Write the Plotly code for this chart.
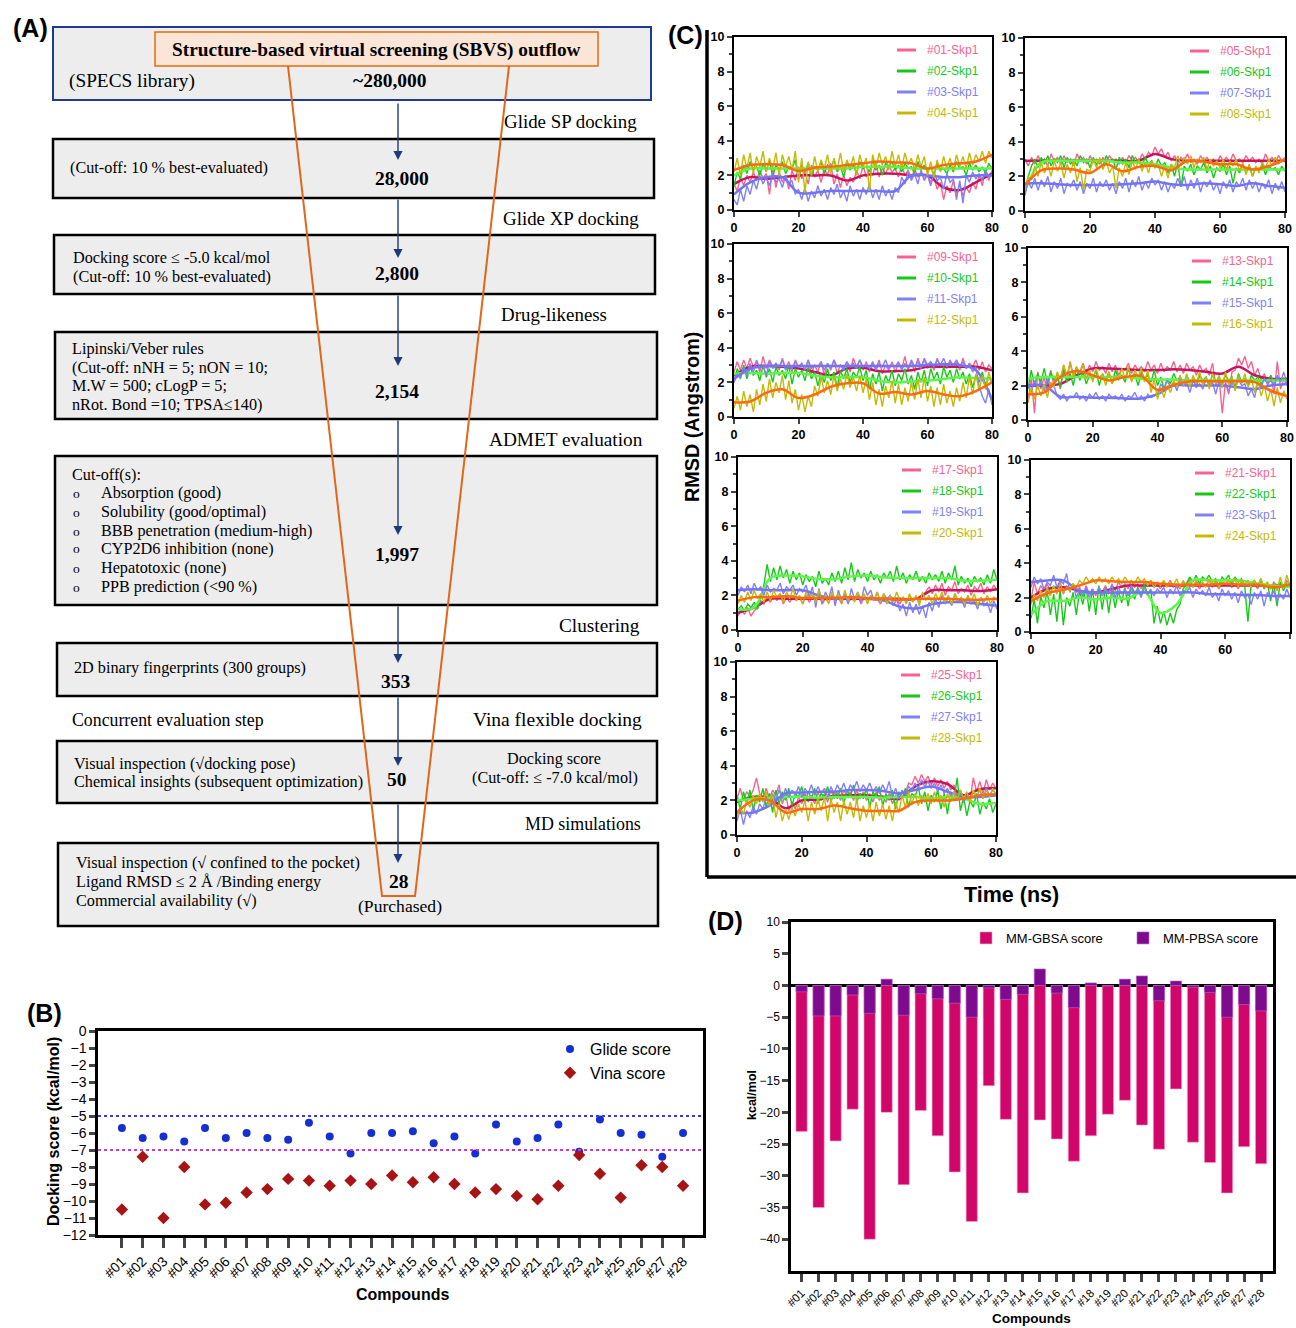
import numpy as np
import plotly.graph_objects as go

W, H = 1296, 1328
def X(px): return px / W
def Y(py): return 1 - py / H

SERIF = "Liberation Serif"
SANS = "Liberation Sans"

# ---------------- data ----------------
COMPOUNDS = ["#01", "#02", "#03", "#04", "#05", "#06", "#07", "#08", "#09", "#10",
             "#11", "#12", "#13", "#14", "#15", "#16", "#17", "#18", "#19", "#20",
             "#21", "#22", "#23", "#24", "#25", "#26", "#27", "#28"]
GLIDE = [-5.7, -6.3, -6.2, -6.5, -5.7, -6.3, -6.0, -6.3, -6.4, -5.4, -6.2, -7.2, -6.0, -6.0,
         -5.9, -6.6, -6.2, -7.2, -5.5, -6.5, -6.3, -5.5, -7.1, -5.2, -6.0, -6.1, -7.4, -6.0]
VINA = [-10.5, -7.4, -11.0, -8.0, -10.2, -10.1, -9.5, -9.3, -8.7, -8.8, -9.1, -8.8, -9.0, -8.5,
        -8.9, -8.6, -9.0, -9.5, -9.3, -9.7, -9.9, -9.1, -7.3, -8.4, -9.8, -7.9, -8.0, -9.1]
GLIDE_CUTOFF = -5.0
VINA_CUTOFF = -7.0

MMGBSA = [-23.0, -35.0, -24.5, -19.5, -40.0, -20.0, -31.4, -19.7, -23.7, -29.4, -37.2, -15.8,
          -21.1, -32.7, -21.2, -24.2, -27.7, -23.7, -20.3, -18.1, -22.0, -25.8, -16.3, -24.7,
          -27.9, -32.7, -25.4, -28.1]
MMPBSA = [-1.0, -4.8, -4.8, -1.5, -4.4, 1.0, -4.7, -1.3, -2.1, -2.8, -5.0, -0.4, -2.2, -1.4,
          2.6, -1.2, -3.5, 0.4, -0.1, 1.0, 1.5, -2.4, 0.7, -0.3, -1.1, -5.0, -3.0, -4.0]

TIME_SMOOTH = [0, 5, 10, 15, 20, 25, 30, 35, 40, 45, 50, 55, 60, 65, 70, 75, 80]

# RMSD traces (one value per ns, 0..80 ns)
RMSD_01 = [1.5,1.1,1.9,1.4,2.0,1.6,2.2,1.7,2.3,1.8,2.1,0.9,2.4,1.3,2.2,1.6,2.0,1.2,2.3,1.7,2.5,1.8,2.2,1.5,2.6,1.9,2.3,1.6,2.4,2.0,2.7,1.5,2.1,1.3,2.0,1.4,1.9,1.6,2.3,1.8,2.6,1.9,2.3,2.0,2.7,1.9,2.4,2.1,2.6,2.2,2.4,1.9,2.6,2.0,2.3,1.8,2.4,1.9,2.2,1.7,2.1,1.6,1.9,1.2,1.6,0.6,1.4,1.0,1.7,0.9,1.5,0.8,1.3,1.0,1.6,1.2,2.0,1.4,2.4,1.7,2.3]
RMSD_02 = [1.4,2.2,1.8,2.6,2.1,2.8,2.3,2.5,2.0,2.7,2.2,2.9,1.9,2.6,2.3,2.8,2.1,2.5,2.4,2.9,1.8,2.6,2.2,2.7,2.0,2.5,2.3,2.8,2.1,2.6,2.4,2.9,2.2,2.5,1.9,2.7,2.3,2.6,2.1,2.8,2.4,2.5,2.2,2.9,2.3,2.6,2.0,2.7,2.5,2.8,2.3,2.6,2.2,2.7,2.4,2.5,2.1,2.8,2.3,2.6,2.2,2.5,2.0,2.7,2.3,2.4,2.1,2.6,2.2,2.8,2.4,2.5,2.0,2.7,2.3,2.6,2.2,2.5,2.1,2.7,2.4]
RMSD_03 = [0.6,0.3,1.2,0.5,1.4,0.9,1.7,1.2,2.0,1.5,1.9,1.4,2.1,1.6,1.8,1.3,2.0,1.5,1.7,0.9,1.2,0.6,1.3,0.5,1.1,0.7,1.4,0.8,1.2,0.6,1.3,0.9,1.5,0.7,1.1,0.5,1.4,0.8,1.2,0.6,1.3,0.9,1.5,0.7,1.2,0.6,1.4,0.8,1.2,0.6,1.3,1.0,1.9,1.5,2.2,1.7,2.1,1.5,2.3,1.8,2.0,1.4,2.2,1.7,1.9,1.2,2.1,1.6,1.8,0.6,1.7,0.4,2.0,1.6,2.2,1.8,2.1,1.7,2.3,1.9,2.0]
RMSD_04 = [2.2,3.0,2.0,3.2,2.4,3.3,2.1,3.1,2.5,3.4,2.2,3.0,2.4,3.3,2.0,3.2,2.5,3.1,2.3,3.4,1.6,3.0,1.0,2.8,2.0,3.1,2.2,2.9,2.4,3.2,2.1,3.0,2.3,3.3,2.2,2.9,2.4,3.1,2.0,3.2,2.5,3.0,1.1,3.2,2.4,3.3,2.6,3.1,2.3,3.4,2.5,3.2,2.4,3.3,2.6,3.0,2.3,3.2,2.5,3.1,2.0,2.8,1.9,2.9,2.2,3.1,2.4,3.0,2.3,3.2,2.5,3.1,2.4,3.3,2.6,3.2,2.8,3.4,2.7,3.4,3.0]
SMOOTH_01 = [1.5,1.9,1.8,1.9,2.0,2.0,2.0,1.7,2.0,2.1,2.1,2.0,2.0,1.3,1.15,1.6,2.1]
SMOOTH_02 = [2.0,2.4,2.4,2.4,2.4,2.4,2.4,2.4,2.5,2.5,2.5,2.4,2.4,2.4,2.4,2.4,2.4]
SMOOTH_03 = [0.9,1.6,1.9,1.9,1.0,1.0,1.1,1.1,1.1,1.1,1.1,2.0,2.0,1.9,1.9,2.0,2.0]
SMOOTH_04 = [2.3,2.6,2.65,2.6,2.25,2.45,2.5,2.6,2.7,2.8,2.75,2.7,2.4,2.6,2.7,2.8,3.2]

RMSD_05 = [3.0,2.6,3.1,2.7,3.2,2.8,3.0,2.6,3.3,2.9,3.1,2.7,3.2,2.8,3.0,2.6,3.3,2.9,3.1,2.7,3.2,2.8,3.0,2.7,3.1,2.8,3.2,2.9,3.0,2.7,3.1,2.8,3.2,2.9,3.1,2.8,3.3,3.0,3.4,3.2,3.7,3.3,3.6,3.1,3.4,2.9,3.2,2.8,3.1,2.9,3.3,2.8,3.0,2.7,3.2,2.9,3.1,2.8,3.0,2.7,3.2,2.9,3.1,2.8,3.3,2.9,3.0,2.8,3.2,2.9,3.1,2.8,3.0,2.7,3.3,2.9,3.1,2.8,3.2,2.9,3.1]
RMSD_06 = [0.9,2.0,2.6,3.0,2.5,3.1,2.7,3.2,2.6,3.0,2.8,3.2,2.5,3.1,2.7,3.0,2.6,3.2,2.8,3.0,2.5,3.1,2.7,2.9,2.6,3.2,2.8,3.0,2.4,3.1,2.7,3.0,2.5,3.2,2.8,3.0,2.6,3.1,2.7,2.9,2.5,3.0,2.6,2.8,2.2,2.7,2.0,2.8,1.4,2.6,2.3,2.7,2.1,2.6,2.4,2.8,2.2,2.6,1.9,2.5,2.3,2.7,2.1,2.6,1.6,2.5,2.2,2.7,2.3,2.6,2.0,2.5,2.3,2.7,2.1,2.6,2.4,2.5,2.1,2.6,2.3]
RMSD_07 = [1.0,1.7,1.3,1.9,1.2,1.8,1.4,2.0,1.1,1.7,1.3,1.9,1.0,1.6,1.4,1.8,1.2,1.7,1.0,1.6,1.3,1.9,1.1,1.7,1.4,1.8,1.2,1.6,1.0,1.7,1.3,1.9,1.1,1.8,1.4,2.0,1.2,1.7,1.3,1.9,1.5,1.8,1.2,1.7,1.1,1.6,1.3,1.9,1.4,2.0,1.2,1.8,1.3,1.9,1.1,1.7,1.4,1.8,1.2,1.6,1.0,1.7,1.3,1.8,1.1,1.7,1.4,1.9,1.2,1.8,1.3,1.7,1.1,1.6,1.3,1.8,1.0,1.6,1.2,1.7,1.1]
RMSD_08 = [1.4,2.0,1.8,2.6,2.0,2.8,2.2,2.7,2.0,2.9,2.3,2.8,1.9,2.7,2.2,2.9,1.7,2.5,1.2,2.4,2.3,3.0,2.5,3.1,2.4,2.9,2.2,2.6,1.3,2.5,2.0,2.8,2.1,2.9,2.4,3.0,2.3,2.8,2.2,2.9,2.5,2.7,2.0,2.6,1.9,2.7,2.5,3.2,2.6,3.1,2.7,3.2,2.5,3.0,2.8,3.1,2.4,3.0,2.6,2.9,2.5,3.0,2.4,2.9,2.6,3.0,2.3,2.8,2.1,2.7,2.0,2.6,2.2,2.8,2.5,3.0,2.6,3.1,2.7,3.0,2.9]
SMOOTH_05 = [2.9,2.9,2.9,2.9,2.9,2.9,2.9,2.9,3.3,3.0,2.9,2.9,2.9,2.9,2.9,2.9,2.9]
SMOOTH_06 = [1.2,2.8,2.9,2.9,2.9,2.9,2.8,2.8,2.7,2.5,2.4,2.4,2.4,2.4,2.4,2.4,2.4]
SMOOTH_07 = [1.6,1.6,1.55,1.5,1.5,1.5,1.55,1.6,1.7,1.55,1.5,1.6,1.55,1.45,1.6,1.45,1.35]
SMOOTH_08 = [1.5,2.35,2.45,2.4,2.2,2.7,2.3,2.55,2.6,2.35,2.9,2.85,2.7,2.7,2.4,2.6,2.95]

RMSD_09 = [2.6,3.2,2.7,3.3,2.8,3.4,2.9,3.2,2.6,3.5,2.8,3.3,2.9,3.1,2.7,3.4,2.8,3.2,2.6,3.3,2.9,3.1,2.7,3.3,2.5,3.0,2.6,3.2,2.4,3.1,2.7,3.3,2.5,3.0,2.8,3.2,2.6,3.4,2.9,3.3,2.7,3.2,2.6,3.1,2.8,3.3,2.5,3.0,2.7,3.2,2.6,3.1,2.8,3.5,2.7,3.2,2.6,3.4,2.9,3.3,2.8,3.2,2.7,3.4,2.9,3.1,2.8,3.3,2.9,3.2,2.7,3.4,2.8,3.1,2.9,3.3,2.7,3.2,2.6,3.0,2.8]
RMSD_10 = [2.0,2.8,2.3,3.0,2.2,2.9,2.4,2.7,2.1,3.0,2.3,2.8,2.0,2.9,2.4,2.7,2.2,3.0,1.9,2.8,2.3,2.7,2.1,2.9,2.2,2.6,1.8,2.5,2.0,2.8,2.1,2.6,1.7,2.7,2.2,2.8,2.0,2.6,2.3,2.9,2.1,2.7,1.6,2.5,1.9,2.6,1.5,2.4,2.0,2.7,1.8,2.5,2.1,2.8,1.9,2.4,1.6,2.6,2.0,2.7,1.8,2.8,2.2,2.6,1.9,2.9,2.3,2.7,2.0,2.8,2.2,2.6,1.9,2.5,1.7,2.4,2.0,2.6,1.8,2.3,2.0]
RMSD_11 = [2.0,2.5,2.2,2.9,2.4,3.1,2.6,3.3,2.8,3.0,2.4,3.2,2.8,3.1,2.9,3.3,2.7,3.0,2.8,3.2,2.9,3.1,2.7,3.3,2.8,3.0,2.9,3.2,2.7,3.1,2.8,3.3,2.9,3.0,2.7,3.2,2.9,3.1,2.8,3.3,2.9,3.0,2.8,3.2,2.7,3.1,2.9,3.3,2.8,3.0,2.9,3.2,2.7,3.1,2.8,3.3,2.9,3.2,2.8,3.4,3.0,3.2,2.9,3.3,3.0,3.4,2.9,3.2,3.0,3.3,2.9,3.2,2.8,3.1,2.6,2.9,1.8,1.2,0.8,1.6,0.7]
RMSD_12 = [0.5,1.2,0.4,1.5,0.6,1.3,0.3,1.6,0.7,1.9,0.9,2.2,1.1,2.0,1.4,2.4,1.0,2.1,0.8,1.6,0.4,1.3,0.3,1.2,0.6,1.8,1.2,2.3,1.4,2.1,1.3,2.4,1.5,2.2,1.6,2.5,1.7,2.3,1.5,2.4,1.4,2.2,1.0,2.0,0.7,1.6,0.6,1.8,1.1,2.1,0.8,1.9,0.7,1.7,0.9,2.0,1.0,2.2,1.1,2.3,0.9,1.8,0.6,1.7,0.7,1.9,0.8,1.5,0.6,1.7,0.9,2.0,1.1,2.3,1.3,2.5,1.5,2.4,1.6,2.6,1.9]
SMOOTH_09 = [2.4,2.9,2.95,2.9,2.8,2.6,2.4,2.8,2.85,2.65,2.65,2.7,2.9,2.9,2.9,2.9,2.7]
SMOOTH_10 = [2.5,2.55,2.5,2.55,2.55,2.4,2.3,2.3,2.3,2.1,2.0,2.05,2.1,2.2,2.3,2.25,2.2]
SMOOTH_11 = [2.2,2.8,2.95,2.95,2.95,2.95,2.95,2.95,2.95,2.95,2.95,2.95,3.0,3.05,3.0,2.7,1.0]
SMOOTH_12 = [0.85,0.9,1.4,1.6,1.1,1.3,1.75,1.95,1.95,1.35,1.45,1.3,1.5,1.3,1.2,1.5,2.0]

RMSD_13 = [1.0,2.5,0.4,2.8,1.8,2.5,1.6,2.9,2.0,2.6,1.8,3.2,2.2,3.4,2.6,3.0,2.8,3.3,2.7,3.2,2.8,3.4,2.9,3.1,2.7,3.3,2.8,3.2,2.6,3.0,2.9,3.3,2.7,3.2,2.9,3.1,2.8,3.4,2.9,3.2,2.7,3.3,2.8,3.1,2.9,3.4,2.8,3.2,2.7,3.3,2.9,3.1,2.6,3.2,2.8,3.0,2.6,3.3,2.0,2.5,0.4,2.2,1.5,2.8,2.9,3.6,3.2,3.7,3.0,3.4,2.6,3.0,2.3,2.7,2.0,2.6,1.5,3.4,1.8,2.4,2.0]
RMSD_14 = [1.8,2.9,2.0,2.7,2.2,3.0,2.1,2.8,2.3,2.6,1.9,2.9,2.2,2.7,2.0,3.1,2.3,2.8,2.1,2.6,2.4,2.9,2.0,2.7,2.3,2.8,2.1,2.9,2.4,2.6,2.2,3.0,2.3,2.7,2.0,2.8,2.4,2.6,2.2,2.9,2.0,2.5,1.8,2.4,2.1,2.7,2.3,2.5,2.0,2.6,2.2,2.4,1.9,2.6,2.3,2.5,2.0,2.7,2.2,2.4,2.1,2.6,2.3,2.5,1.9,2.7,2.2,2.4,2.0,2.6,2.3,2.5,2.1,2.4,2.2,2.6,2.0,2.5,2.3,2.4,2.2]
RMSD_15 = [2.1,1.6,2.3,1.8,2.2,1.7,2.4,1.9,2.0,1.4,1.2,1.5,1.1,1.4,1.3,1.6,1.2,1.4,1.1,1.5,1.3,1.6,1.2,1.4,1.1,1.5,1.3,1.4,1.2,1.5,1.1,1.4,1.3,1.6,1.2,1.4,1.1,1.5,1.3,1.4,1.5,2.1,1.8,2.3,1.9,2.2,1.7,2.4,2.0,2.2,1.6,2.3,1.9,2.1,1.8,2.4,2.0,2.2,1.5,2.3,1.9,2.1,1.7,2.2,1.8,2.4,2.0,2.1,1.4,1.8,1.3,2.2,1.9,2.4,2.1,2.3,2.0,2.6,2.2,2.8,2.1]
RMSD_16 = [1.0,1.9,1.2,2.0,1.4,2.1,1.3,2.2,1.9,2.8,2.4,3.2,2.6,3.3,2.5,3.1,2.7,3.2,2.4,2.9,2.2,3.0,2.4,2.7,2.0,2.8,2.1,2.6,2.3,3.0,2.4,3.1,2.2,2.9,2.5,3.0,2.2,2.9,1.6,2.4,1.2,1.9,1.3,2.0,1.6,2.3,1.9,2.6,2.0,2.7,1.9,2.6,2.1,2.8,2.0,2.5,1.8,2.7,2.1,2.6,1.9,2.8,2.0,2.5,1.7,2.6,2.1,2.7,1.9,2.4,1.6,2.3,1.4,2.0,1.1,1.8,0.8,1.9,1.0,1.7,1.2]
SMOOTH_13 = [2.0,2.0,2.1,2.6,3.0,3.0,2.95,2.9,2.9,2.95,2.9,2.8,2.7,3.1,2.6,2.4,2.4]
SMOOTH_14 = [2.4,2.5,2.5,2.5,2.5,2.5,2.5,2.4,2.35,2.35,2.3,2.3,2.3,2.3,2.3,2.3,2.3]
SMOOTH_15 = [2.0,2.0,1.35,1.35,1.3,1.3,1.25,1.25,1.5,2.0,2.0,2.0,2.0,1.9,1.8,2.0,2.1]
SMOOTH_16 = [1.5,1.6,2.5,2.85,2.6,2.3,2.5,2.55,1.75,2.05,2.25,2.25,2.25,2.25,2.2,1.7,1.4]

RMSD_17 = [0.8,1.2,0.9,1.3,0.8,1.1,1.3,1.7,1.5,1.9,1.6,2.0,1.7,2.1,1.5,1.9,1.6,2.0,1.7,1.9,1.5,2.0,1.6,1.9,1.7,2.1,1.5,1.8,1.6,2.0,1.7,1.9,1.5,2.1,1.6,1.8,1.7,2.0,1.5,1.9,1.6,2.0,1.7,1.8,1.5,1.9,1.6,2.0,1.7,1.8,1.5,1.9,1.6,2.0,1.7,1.9,1.6,2.0,2.2,2.5,2.1,2.6,2.2,2.7,2.0,2.5,2.3,2.8,2.1,2.4,2.2,2.6,2.0,2.5,2.3,2.7,2.1,2.5,2.2,2.6,2.3]
RMSD_18 = [1.2,1.4,1.1,1.5,1.3,1.6,1.2,1.8,2.6,3.8,2.8,3.6,2.9,3.7,3.0,3.5,2.7,3.4,2.9,3.3,2.6,3.2,2.8,3.1,2.5,3.4,2.7,3.0,2.6,3.3,2.8,3.4,2.7,3.6,2.9,3.9,2.8,3.5,3.0,3.3,2.8,3.4,2.9,3.2,2.7,3.3,3.0,3.4,2.8,3.7,2.9,3.3,2.7,3.2,2.9,3.4,2.8,3.1,2.7,3.3,2.9,3.2,2.8,3.4,2.7,3.3,2.9,3.7,2.6,3.1,2.7,3.0,2.5,3.1,2.8,3.0,2.6,3.2,2.7,3.5,2.9]
RMSD_19 = [2.0,2.5,2.2,2.6,2.1,2.7,2.3,2.5,2.0,2.6,2.2,2.4,2.3,2.7,2.1,2.5,2.3,2.6,2.0,2.4,2.2,2.6,1.9,2.5,1.3,2.4,1.5,2.2,1.8,2.5,1.4,2.3,1.7,2.1,1.5,2.4,1.8,2.2,1.6,2.5,2.0,2.3,1.7,2.2,1.6,2.1,1.8,2.0,1.4,1.8,1.1,1.5,0.8,1.6,1.0,1.5,0.9,1.4,0.7,1.6,1.1,1.8,1.3,2.0,1.5,1.9,1.4,2.1,1.6,1.8,1.3,2.0,1.5,1.7,1.2,1.9,1.4,1.6,1.0,1.7,1.2]
RMSD_20 = [1.5,2.0,1.6,2.2,1.7,2.3,1.8,2.1,1.6,2.2,1.7,2.3,1.9,2.1,1.6,2.2,1.8,2.4,1.7,2.0,1.5,2.2,1.8,2.1,1.6,2.3,1.7,2.0,1.5,2.2,1.8,2.1,1.6,2.3,1.7,2.0,1.6,2.2,1.8,2.1,1.5,2.0,1.7,2.2,1.6,2.1,1.5,2.0,1.6,2.2,1.7,1.9,1.5,2.1,1.6,2.0,1.4,2.2,1.7,2.0,1.5,2.1,1.7,2.2,1.6,2.0,1.5,2.1,1.7,1.9,1.5,2.0,1.6,2.1,1.4,1.9,1.6,2.0,1.5,1.9,1.7]
SMOOTH_17 = [1.0,1.3,1.8,1.8,1.8,1.8,1.8,1.8,1.8,1.8,1.8,1.8,2.3,2.3,2.3,2.25,2.35]
SMOOTH_18 = [1.2,1.3,3.0,3.15,3.1,2.95,2.95,3.1,3.15,3.05,3.0,3.0,3.0,3.0,2.85,2.85,2.9]
SMOOTH_19 = [2.3,2.35,2.3,2.3,2.3,2.0,1.8,1.9,1.8,1.7,1.35,1.25,1.5,1.6,1.6,1.5,1.4]
SMOOTH_20 = [1.7,1.9,1.9,1.95,1.85,1.85,1.85,1.9,1.85,1.8,1.75,1.8,1.8,1.8,1.75,1.75,1.8]

RMSD_21 = [1.9,2.9,2.2,2.7,2.4,2.8,2.3,2.6,2.5,2.9,2.2,2.7,2.4,2.8,2.3,2.6,2.0,2.7,2.2,2.5,2.1,2.6,2.3,2.7,2.2,2.8,2.4,2.9,2.6,2.8,2.5,3.0,2.6,2.8,2.5,2.9,2.7,3.0,2.6,2.8,2.5,2.9,2.7,3.0,2.6,2.8,2.5,2.9,2.7,3.1,2.6,2.9,2.5,2.8,2.7,3.0,2.6,2.9,2.5,2.8,2.7,3.0,2.6,2.8,2.5,2.9,2.7,3.0,2.6,2.8,2.5,2.9,2.6,2.8,2.5,2.9,2.7,2.8,2.6,3.0,2.7]
RMSD_22 = [0.8,1.9,0.5,2.1,1.4,2.4,1.0,2.2,0.6,2.5,0.4,2.0,1.5,2.3,1.0,2.4,1.6,2.6,1.2,2.5,1.0,2.7,1.3,2.6,1.1,2.5,1.4,2.4,1.7,2.6,1.5,2.7,1.9,2.6,2.1,2.8,2.2,2.5,0.5,1.5,0.5,1.2,0.4,1.1,0.5,1.3,1.6,2.5,2.8,3.2,2.9,3.3,2.8,3.2,3.0,3.3,2.9,3.1,2.7,3.2,3.0,3.3,2.8,3.2,2.9,3.1,2.7,0.6,2.8,3.0,2.6,3.1,2.5,2.9,1.8,2.8,1.5,2.9,2.4,2.8,2.6]
RMSD_23 = [2.6,3.2,2.8,3.1,2.5,2.9,2.7,3.3,2.6,3.0,2.8,3.4,2.3,2.8,2.0,2.5,2.1,2.6,2.0,2.5,2.2,2.6,2.1,2.5,2.3,2.7,2.0,2.6,2.2,2.5,2.1,2.7,2.3,2.5,2.0,2.6,2.2,2.4,2.1,2.5,2.3,2.6,2.0,2.5,2.2,2.7,2.1,2.4,2.3,2.6,2.0,2.5,2.2,2.4,2.1,2.6,2.0,2.3,1.8,2.5,2.1,2.4,1.9,2.3,1.7,2.4,2.0,2.2,1.6,2.3,1.9,2.4,1.5,2.3,2.0,2.4,1.8,2.2,1.9,2.5,2.0]
RMSD_24 = [1.6,2.2,1.8,2.4,2.0,2.6,2.1,2.7,2.2,2.8,2.3,2.6,2.4,2.8,2.6,3.0,2.8,3.2,2.9,3.1,2.8,3.2,2.9,3.1,2.8,3.2,2.9,3.1,2.8,3.2,2.9,3.0,2.8,3.2,2.9,3.1,2.7,3.0,2.6,2.9,2.7,3.0,2.6,2.9,2.7,3.1,2.6,3.0,2.7,2.9,2.6,3.0,2.7,2.9,2.6,3.1,2.7,3.0,2.6,2.9,2.8,3.0,2.7,3.1,2.6,3.0,2.8,2.9,2.6,3.0,2.7,3.1,2.6,2.9,2.5,2.8,2.4,3.2,2.5,3.3,2.7]
SMOOTH_21 = [2.0,2.5,2.6,2.4,2.3,2.5,2.7,2.7,2.7,2.7,2.7,2.7,2.7,2.7,2.7,2.7,2.7]
SMOOTH_22 = [1.0,1.8,1.8,2.0,1.9,2.0,1.95,2.35,1.1,1.6,3.0,3.0,3.0,3.0,2.8,2.7,2.6]
SMOOTH_23 = [2.9,3.0,3.0,2.4,2.3,2.3,2.3,2.3,2.3,2.3,2.3,2.2,2.2,2.15,2.15,2.1,2.1]
SMOOTH_24 = [1.8,2.25,2.45,2.7,3.0,2.95,2.9,2.9,2.8,2.75,2.75,2.75,2.8,2.75,2.75,2.6,2.75]

RMSD_25 = [2.1,2.7,2.0,2.5,2.2,2.6,3.3,2.4,2.0,2.7,2.1,2.6,2.3,2.9,1.8,2.4,1.4,1.9,1.5,2.2,1.8,2.4,1.9,2.3,1.8,2.5,2.0,2.4,1.9,2.6,2.1,2.5,2.0,2.6,2.2,2.5,2.0,2.6,2.1,2.5,2.0,2.4,1.9,2.5,2.0,2.3,1.9,2.4,1.8,2.3,2.0,2.5,2.4,3.0,2.9,3.4,3.0,3.5,3.1,3.4,2.9,3.3,2.8,3.2,2.7,3.1,2.6,2.9,2.3,2.6,1.9,2.4,2.0,3.3,2.5,3.1,2.4,3.2,2.6,3.0,2.7]
RMSD_26 = [2.3,1.5,2.5,1.8,2.6,1.4,2.3,1.9,2.7,1.6,2.4,1.3,2.6,1.8,2.5,2.0,2.7,1.7,2.4,2.2,2.8,1.9,2.5,2.1,2.7,1.8,2.4,2.2,2.8,1.9,2.5,2.1,2.7,1.8,2.6,2.2,2.9,1.9,2.4,2.1,2.7,1.6,2.5,2.2,2.8,1.7,2.4,2.0,2.6,1.5,2.5,2.1,2.7,1.6,2.4,2.2,2.8,1.8,2.5,1.4,2.3,1.9,2.6,1.5,2.4,1.2,2.5,2.0,3.3,1.4,2.2,1.1,2.0,1.6,2.4,1.2,1.9,1.5,2.1,1.3,1.8]
RMSD_27 = [0.8,1.5,0.6,1.4,1.0,1.7,1.2,1.8,1.5,2.2,1.7,2.4,2.0,2.6,2.1,2.7,2.2,2.6,2.3,2.8,2.2,2.7,2.4,2.9,2.3,2.8,2.4,2.7,2.2,2.8,2.4,2.9,2.5,3.0,2.4,2.9,2.6,3.1,2.5,2.9,2.6,3.0,2.5,2.8,2.4,2.9,2.5,3.1,2.2,2.7,2.1,2.6,2.3,2.8,2.6,3.0,2.7,3.2,2.8,3.1,2.7,3.0,2.5,2.9,2.4,2.7,2.3,2.5,2.0,2.4,1.9,2.3,2.0,2.5,2.2,2.6,2.1,2.7,2.3,2.6,2.4]
RMSD_28 = [1.0,1.6,1.2,2.0,1.6,2.3,1.8,2.4,1.9,2.5,1.7,2.3,1.0,1.8,0.8,1.5,0.9,1.6,1.1,1.8,1.3,2.0,0.8,1.9,1.2,2.1,1.4,2.2,0.8,2.1,1.3,1.9,0.8,2.0,1.2,1.9,1.0,2.1,0.8,1.7,1.0,1.8,0.8,1.9,1.1,1.8,0.9,1.7,0.8,1.9,1.3,2.3,1.6,2.5,1.8,2.4,1.7,2.3,1.9,2.4,1.8,2.5,1.9,2.3,1.6,2.4,1.9,2.5,2.0,2.6,2.1,2.5,1.9,2.6,2.2,2.7,2.1,2.6,2.2,2.7,2.3]
SMOOTH_25 = [1.9,2.2,2.15,1.55,2.0,2.05,2.25,2.3,2.3,2.2,2.1,2.8,3.1,2.95,2.3,2.65,2.7]
SMOOTH_26 = [2.0,2.1,2.15,2.2,2.2,2.15,2.2,2.2,2.2,2.15,2.2,2.2,2.1,2.2,2.1,1.8,1.85]
SMOOTH_27 = [1.3,1.3,1.7,2.4,2.45,2.5,2.5,2.6,2.6,2.55,2.4,2.6,2.8,2.5,2.2,2.2,2.3]
SMOOTH_28 = [1.3,2.0,2.0,1.3,1.5,1.5,1.7,1.55,1.4,1.4,1.4,1.9,2.0,2.0,2.1,2.3,2.35]

RMSD_GROUPS = [
    [RMSD_01, RMSD_02, RMSD_03, RMSD_04], [RMSD_05, RMSD_06, RMSD_07, RMSD_08],
    [RMSD_09, RMSD_10, RMSD_11, RMSD_12], [RMSD_13, RMSD_14, RMSD_15, RMSD_16],
    [RMSD_17, RMSD_18, RMSD_19, RMSD_20], [RMSD_21, RMSD_22, RMSD_23, RMSD_24],
    [RMSD_25, RMSD_26, RMSD_27, RMSD_28]]
SMOOTH_GROUPS = [
    [SMOOTH_01, SMOOTH_02, SMOOTH_03, SMOOTH_04], [SMOOTH_05, SMOOTH_06, SMOOTH_07, SMOOTH_08],
    [SMOOTH_09, SMOOTH_10, SMOOTH_11, SMOOTH_12], [SMOOTH_13, SMOOTH_14, SMOOTH_15, SMOOTH_16],
    [SMOOTH_17, SMOOTH_18, SMOOTH_19, SMOOTH_20], [SMOOTH_21, SMOOTH_22, SMOOTH_23, SMOOTH_24],
    [SMOOTH_25, SMOOTH_26, SMOOTH_27, SMOOTH_28]]

# ---------------- styling ----------------
NOISE_COLORS = ["#F7638F", "#17C917", "#8080F8", "#C2BA06"]
SMOOTH_COLORS = ["#C8145A", "#5CF54A", "#7474F2", "#FF6A10"]
C_BOXES = [(734, 992, 37, 210), (1025, 1285, 38, 211), (734, 992, 244, 417),
           (1028, 1287, 248, 420), (738, 997, 457, 630), (1031, 1290, 460, 632),
           (737, 996, 662, 835)]
BODY, LABEL, NUM = 16.2, 18.9, 19.5

fig = go.Figure()
shapes, annos = [], []

def text(x, y, s, size=BODY, anchor="left", bold=False, family=SERIF, color="black", angle=0):
    annos.append(dict(x=X(x), y=Y(y), xref="paper", yref="paper", text=s, showarrow=False,
                      xanchor=anchor, yanchor="middle", textangle=angle,
                      font=dict(family=family, size=size, color=color,
                                weight="bold" if bold else "normal")))

def rect(x0, y0, x1, y1, line="black", width=2.5, fill="#EDEDED"):
    shapes.append(dict(type="rect", xref="paper", yref="paper", x0=X(x0), x1=X(x1),
                       y0=Y(y1), y1=Y(y0), line=dict(color=line, width=width), fillcolor=fill,
                       layer="below"))

def pline(x0, y0, x1, y1, color="black", width=3, dash="solid"):
    shapes.append(dict(type="line", xref="paper", yref="paper", x0=X(x0), x1=X(x1),
                       y0=Y(y0), y1=Y(y1), line=dict(color=color, width=width, dash=dash)))

def arrow(x, y0, y1):
    annos.append(dict(x=X(x), y=Y(y1), ax=0, ay=-(y1 - y0), xref="paper", yref="paper",
                      axref="pixel", ayref="pixel", text="", showarrow=True, arrowhead=2,
                      arrowsize=1.3, arrowwidth=1.4, arrowcolor="#1F3A78"))

# ---------------- Panel A ----------------
rect(53, 27, 651, 100, line="#1F3A93", width=2)
for b in [(53, 139, 654, 198), (54, 235, 655, 294), (55, 332, 657, 419), (55, 456, 657, 605),
          (57, 643, 657, 696), (57, 741, 657, 803), (58, 843, 658, 926)]:
    rect(*b)
rect(155, 32, 598, 66, line="#E46C0A", width=1.5, fill="#FBE5D6")
shapes.append(dict(type="path", xref="paper", yref="paper",
                   path=f"M {X(288)},{Y(66)} L {X(382)},{Y(896)} L {X(415)},{Y(896)} L {X(509)},{Y(66)}",
                   line=dict(color="#E0661A", width=2)))
for y0, y1 in [(102, 160), (198, 258), (294, 366), (419, 535), (605, 663), (696, 766), (803, 863)]:
    arrow(398, y0, y1)

text(30, 28, "(A)", size=25, anchor="center", bold=True, family=SANS)
text(376, 50, "Structure-based virtual screening (SBVS) outflow", size=19.3, anchor="center", bold=True)
text(67, 81, "(SPECS library)", size=19.3)
text(390, 81, "~280,000", size=19.5, anchor="center", bold=True)
text(639, 121, "Glide SP docking", size=LABEL, anchor="right")
text(68, 168, "(Cut-off: 10 % best-evaluated)", size=BODY)
text(402, 178, "28,000", size=NUM, anchor="center", bold=True)
text(641, 219, "Glide XP docking", size=LABEL, anchor="right")
text(71, 258, "Docking score ≤ -5.0 kcal/mol", size=BODY)
text(71, 277, "(Cut-off: 10 % best-evaluated)", size=BODY)
text(397, 273, "2,800", size=NUM, anchor="center", bold=True)
text(609, 314, "Drug-likeness", size=LABEL, anchor="right")
for yy, s in [(349, "Lipinski/Veber rules"), (368, "(Cut-off: nNH = 5; nON = 10;"),
              (386, "M.W = 500; cLogP = 5;"), (405, "nRot. Bond =10; TPSA≤140)")]:
    text(70, yy, s, size=BODY)
text(397, 391, "2,154", size=NUM, anchor="center", bold=True)
text(645, 439, "ADMET evaluation", size=19.3, anchor="right")
text(70, 475, "Cut-off(s):", size=BODY)
for yy, s in [(493, "Absorption (good)"), (512, "Solubility (good/optimal)"),
              (531, "BBB penetration (medium-high)"), (549, "CYP2D6 inhibition (none)"),
              (568, "Hepatotoxic (none)"), (587, "PPB prediction (&lt;90 %)")]:
    text(71, yy, "o", size=13.5)
    text(99, yy, s, size=BODY)
text(397, 554, "1,997", size=NUM, anchor="center", bold=True)
text(642, 625, "Clustering", size=19.3, anchor="right")
text(72, 668, "2D binary fingerprints (300 groups)", size=BODY)
text(396, 682, "353", size=NUM, anchor="center", bold=True)
text(70, 720, "Concurrent evaluation step", size=17.8)
text(644, 719, "Vina flexible docking", size=19.5, anchor="right")
text(72, 764, "Visual inspection (√docking pose)", size=BODY)
text(72, 782, "Chemical insights (subsequent optimization)", size=BODY)
text(397, 779, "50", size=NUM, anchor="center", bold=True)
text(554, 759, "Docking score", size=BODY, anchor="center")
text(555, 778, "(Cut-off: ≤ -7.0 kcal/mol)", size=BODY, anchor="center")
text(643, 824, "MD simulations", size=17.9, anchor="right")
text(74, 863, "Visual inspection (√ confined to the pocket)", size=BODY)
text(74, 882, "Ligand RMSD ≤ 2 Å /Binding energy", size=BODY)
text(74, 901, "Commercial availability (√)", size=BODY)
text(399, 881, "28", size=NUM, anchor="center", bold=True)
text(400, 906, "(Purchased)", size=17.6, anchor="center")

# ---------------- Panel B ----------------
fig.add_trace(go.Scatter(x=COMPOUNDS, y=GLIDE, mode="markers", name="Glide score",
                         marker=dict(symbol="circle", size=8, color="#1530D0"),
                         xaxis="x", yaxis="y", legend="legend"))
fig.add_trace(go.Scatter(x=COMPOUNDS, y=VINA, mode="markers", name="Vina score",
                         marker=dict(symbol="diamond", size=9.5, color="#A81414"),
                         xaxis="x", yaxis="y", legend="legend"))
shapes.append(dict(type="line", xref="x domain", yref="y", x0=0, x1=1, y0=GLIDE_CUTOFF,
                   y1=GLIDE_CUTOFF, line=dict(color="#3A3AE0", width=2, dash="dot")))
shapes.append(dict(type="line", xref="x domain", yref="y", x0=0, x1=1, y0=VINA_CUTOFF,
                   y1=VINA_CUTOFF, line=dict(color="#C040C0", width=2, dash="dot")))
text(44, 1013, "(B)", size=25, anchor="center", bold=True, family=SANS)
text(53, 1132, "Docking score (kcal/mol)", size=16, anchor="center", bold=True, family=SANS, angle=-90)
text(402, 1294, "Compounds", size=16, anchor="center", bold=True, family=SANS)

# ---------------- Panel D ----------------
fig.add_trace(go.Bar(x=COMPOUNDS, y=MMGBSA, name="MM-GBSA score", width=0.66,
                     marker=dict(color="#D1066A", line=dict(color="#F3A2C6", width=0.6)),
                     xaxis="x2", yaxis="y2", legend="legend2"))
fig.add_trace(go.Bar(x=COMPOUNDS, y=MMPBSA, name="MM-PBSA score", width=0.66,
                     marker=dict(color="#7E0A8E", line=dict(color="#B36AD0", width=0.6)),
                     xaxis="x2", yaxis="y2", legend="legend2"))
text(725, 921, "(D)", size=25, anchor="center", bold=True, family=SANS)
text(752, 1095, "kcal/mol", size=12.5, anchor="center", bold=True, family=SANS, angle=-90)
text(1031, 1318, "Compounds", size=13.5, anchor="center", bold=True, family=SANS)

# ---------------- Panel C ----------------
layout_axes = {}
for k, (l, r, t, b) in enumerate(C_BOXES):
    n = k + 3
    layout_axes[f"xaxis{n}"] = dict(domain=[X(l), X(r)], anchor=f"y{n}", range=[0, 80],
                                     tickvals=[0, 20, 40, 60, 80], showline=True,
                                     linecolor="black", linewidth=2, mirror=True,
                                     ticks="outside", ticklen=5, tickwidth=2, automargin=False,
                                     tickfont=dict(family=SANS, size=12.5, weight="bold"),
                                     showgrid=False, zeroline=False)
    layout_axes[f"yaxis{n}"] = dict(domain=[Y(b), Y(t)], anchor=f"x{n}", range=[0, 10],
                                     tickvals=[0, 2, 4, 6, 8, 10], showline=True,
                                     linecolor="black", linewidth=2, mirror=True,
                                     ticks="outside", ticklen=5, tickwidth=2, automargin=False,
                                     minor=dict(ticks="outside", ticklen=3, tickwidth=1.5,
                                                dtick=1, showgrid=False),
                                     tickfont=dict(family=SANS, size=12.5, weight="bold"),
                                     showgrid=False, zeroline=False)
    for j in range(4):
        vals = RMSD_GROUPS[k][j]
        fig.add_trace(go.Scatter(x=np.linspace(0, 80, len(vals)), y=vals, mode="lines",
                                 line=dict(color=NOISE_COLORS[j], width=1.4), showlegend=False,
                                 hoverinfo="skip", xaxis=f"x{n}", yaxis=f"y{n}"))
        fig.add_trace(go.Scatter(x=TIME_SMOOTH, y=SMOOTH_GROUPS[k][j], mode="lines",
                                 line=dict(color=SMOOTH_COLORS[j], width=2.5, shape="spline",
                                           smoothing=1.0),
                                 showlegend=False, hoverinfo="skip", xaxis=f"x{n}", yaxis=f"y{n}"))
    for j in range(4):
        yy = t + 13 + 21 * j
        pline(r - 95, yy, r - 76, yy, color=NOISE_COLORS[j], width=3)
        text(r - 67, yy, f"#{4 * k + j + 1:02d}-Skp1", size=12, family=SANS, color=NOISE_COLORS[j])

pline(707, 30, 707, 877, width=3.5)
pline(707, 877, 1296, 877, width=3.5)
text(685, 35, "(C)", size=25, anchor="center", bold=True, family=SANS)
text(692, 417, "RMSD (Angstrom)", size=19.8, anchor="center", bold=True, family=SANS, angle=-90)
text(1011, 895, "Time (ns)", size=21.5, anchor="center", bold=True, family=SANS)

# ---------------- layout ----------------
fig.update_layout(
    width=W, height=H, margin=dict(l=0, r=0, t=0, b=0, autoexpand=False),
    paper_bgcolor="white", plot_bgcolor="white", barmode="overlay",
    font=dict(family=SANS, color="black"),
    xaxis=dict(domain=[X(98), X(703)], anchor="y", range=[-1.15, 27.96], type="category",
               showline=True, linecolor="black", linewidth=2.5, mirror=True, automargin=False,
               ticks="outside", ticklen=10, tickwidth=2.5, tickangle=-45,
               tickfont=dict(family=SANS, size=14), showgrid=False),
    yaxis=dict(domain=[Y(1235), Y(1031)], anchor="x", range=[-12, 0], dtick=1,
               showline=True, linecolor="black", linewidth=2.5, mirror=True, automargin=False,
               ticks="outside", ticklen=6, tickwidth=2.5,
               tickfont=dict(family=SANS, size=14), showgrid=False, zeroline=False),
    xaxis2=dict(domain=[X(791), X(1273)], anchor="y2", range=[-0.62, 27.7], type="category",
                showline=True, linecolor="black", linewidth=2.5, mirror=True, automargin=False,
                ticks="outside", ticklen=8, tickwidth=2.5, tickangle=-45,
                tickfont=dict(family=SANS, size=11.5), showgrid=False),
    yaxis2=dict(domain=[Y(1271), Y(922)], anchor="x2", range=[-45, 10],
                tickvals=[10, 5, 0, -5, -10, -15, -20, -25, -30, -35, -40],
                showline=True, linecolor="black", linewidth=2.5, mirror=True, automargin=False,
                ticks="outside", ticklen=6, tickwidth=2.5,
                tickfont=dict(family=SANS, size=12), showgrid=False,
                zeroline=True, zerolinecolor="black", zerolinewidth=2.5),
    legend=dict(x=X(550), y=Y(1032), xanchor="left", yanchor="top",
                bgcolor="rgba(0,0,0,0)", font=dict(family=SANS, size=16)),
    legend2=dict(x=X(966), y=Y(923), xanchor="left", yanchor="top", orientation="h",
                 bgcolor="rgba(0,0,0,0)", font=dict(family=SANS, size=13),
                 entrywidth=112, entrywidthmode="pixels"),
    shapes=shapes, annotations=annos,
    **layout_axes,
)

fig.write_html("out.html", config={"displayModeBar": False},
               post_script="document.body.style.margin='0px';")
